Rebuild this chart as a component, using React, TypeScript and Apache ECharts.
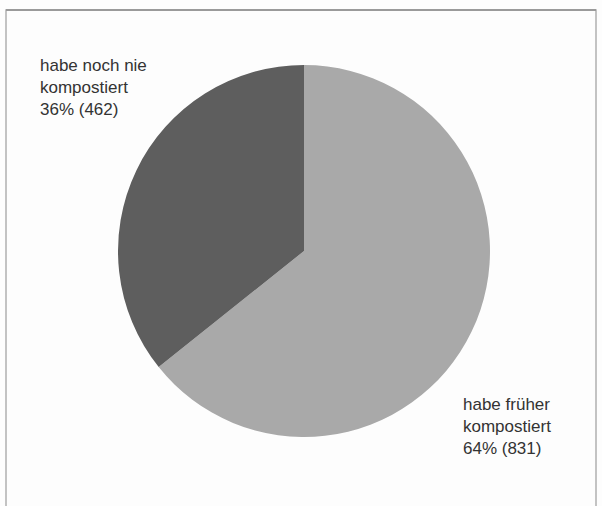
import React, { useEffect, useRef } from "react";
import * as echarts from "echarts";

const categories = ["habe früher|kompostiert", "habe noch nie|kompostiert"];
const counts = [831, 462];
const sliceColors = ["#a9a9a9", "#5e5e5e"];

export default function App() {
  const ref = useRef<HTMLDivElement>(null);
  useEffect(() => {
    if (!ref.current) return;
    const chart = echarts.init(ref.current, undefined, { renderer: "svg" });
    const total = counts.reduce((a, b) => a + b, 0);
    const labelPos = [
      { x: 463, y: 393 },
      { x: 40, y: 54 },
    ];
    chart.setOption({
      animation: false,
      backgroundColor: "#fdfdfd",
      graphic: [
        {
          type: "rect",
          shape: { x: 6, y: 10, width: 590, height: 520 },
          style: { fill: "none", stroke: "#b0b0b0", lineWidth: 1.5 },
          silent: true,
        },
        {
          type: "line",
          shape: { x1: 6, y1: 10, x2: 596, y2: 10 },
          style: { stroke: "#9a9a9a", lineWidth: 2 },
          silent: true,
        },
      ],
      series: [
        {
          type: "pie",
          center: [304, 251],
          radius: 186,
          startAngle: 90,
          clockwise: true,
          data: categories.map((c, i) => ({
            name: c,
            value: counts[i],
            itemStyle: { color: sliceColors[i] },
          })),
          itemStyle: { borderWidth: 0 },
          label: {
            show: true,
            position: "outside",
            color: "#333333",
            fontFamily: "Liberation Sans",
            fontSize: 17,
            lineHeight: 22,
            align: "left",
            overflow: "none",
            width: 200,
            formatter: (p: any) =>
              p.name.split("|").join("\n") +
              "\n" +
              Math.round((p.value / total) * 100) +
              "% (" +
              p.value +
              ")",
          },
          labelLine: { show: false },
          labelLayout: (p: any) => ({
            x: labelPos[p.dataIndex].x,
            y: labelPos[p.dataIndex].y,
            align: "left",
            verticalAlign: "top",
          }),
          emphasis: { disabled: true },
        },
      ],
    });
    return () => chart.dispose();
  }, []);
  return <div ref={ref} style={{ width: 602, height: 506, position: "absolute", left: 0, top: 0 }} />;
}
